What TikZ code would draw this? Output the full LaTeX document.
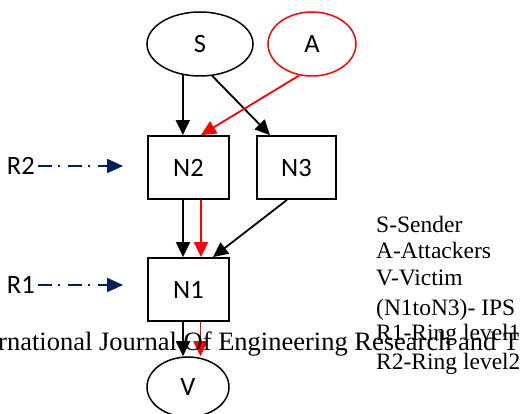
\documentclass[tikz,border=0pt]{standalone}
\usepackage{fontspec}
\setmainfont{Liberation Serif}
\newfontfamily\calibri{Carlito}
\usetikzlibrary{arrows.meta,shapes.geometric,calc}
\definecolor{navy}{HTML}{002060}
\definecolor{attack}{HTML}{FF0000}

\begin{document}
\begin{tikzpicture}[x=1pt,y=-1pt,
  every node/.style={inner sep=0pt},
  lbl/.style={font=\calibri\fontsize{26.5}{30}\selectfont},
  party/.style={ellipse,draw,line width=1.5pt,lbl},
  ips/.style={rectangle,draw,line width=1.8pt,minimum width=81pt,minimum height=63pt,lbl},
  flow/.style={line width=1.8pt,-{Triangle[length=15pt,width=14pt]}},
  ring/.style={navy,line width=1.8pt,dash pattern=on 14pt off 6pt on 2pt off 8pt,
    -{Triangle[length=16pt,width=14pt]}},
  legend/.style={anchor=base west,font=\fontsize{23.5}{27}\selectfont},
]
\useasboundingbox (0,0) rectangle (523,414);

% parties
\node[party,minimum width=106pt,minimum height=64pt] (S) at (200,44) {S};
\node[party,attack,text=black,minimum width=88pt,minimum height=64pt] (A) at (312,44) {A};
\node[party,minimum width=82pt,minimum height=60pt] (V) at (188,387) {V};

% IPS nodes
\node[ips] (N2) at (188.5,167.5) {N2};
\node[ips,minimum width=79pt] (N3) at (296.5,167.5) {N3};
\node[ips] (N1) at (188.5,289.5) {N1};

% ring level labels
\node[lbl,anchor=east] (R2) at (35,166) {R2};
\node[lbl,anchor=east] (R1) at (35,285) {R1};
\draw[ring] ([xshift=3pt]R2.east) -- ([xshift=-24pt]N2.west |- R2.east);
\draw[ring] ([xshift=3pt]R1.east) -- ([xshift=-24pt]N1.west |- R1.east);

% traffic flows
\draw[flow] (S.241) -- (S.241 |- N2.north);
\draw[flow] (S.291) -- ([xshift=-26.5pt]N3.north);
\draw[flow,attack] (A.248.7) -- ([xshift=12.5pt]N2.north);
\draw[flow] ([xshift=-5.5pt]N2.south) -- ([xshift=-5.5pt]N1.north);
\draw[flow,attack] ([xshift=12.5pt]N2.south) -- ([xshift=12.5pt]N1.north);
\draw[flow] ([xshift=-9.5pt]N3.south) -- ([xshift=24.5pt]N1.north);
\draw[flow] ([xshift=-5.5pt]N1.south) -- ([xshift=-5.5pt]N1.south |- V.north);
\draw[flow,attack] ([xshift=12pt]N1.south) -- ([xshift=12pt]N1.south |- V.north);

% legend
\node[legend] (l1) at (376,233) {S-Sender};
\node[legend] (l2) at (376,259) {A-Attackers};
\node[legend] (l3) at (376,286) {V-Victim};
\node[legend] (l4) at (376,316) {(N1toN3)- IPS};
\node[legend] (l5) at (376,341) {R1-Ring level1};
\node[legend] (l6) at (376,370) {R2-Ring level2};

% running header laid over the figure
\node[anchor=base west,font=\fontsize{26.5}{30}\selectfont] (journal) at (-2,351)
  {rnational Journal Of Engineering Research and T};
\end{tikzpicture}
\end{document}
